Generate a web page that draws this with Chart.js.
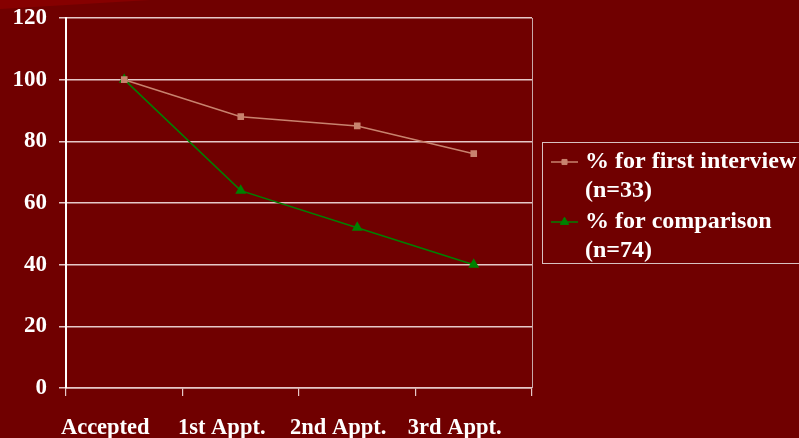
<!DOCTYPE html>
<html>
<head>
<meta charset="utf-8">
<style>
  html, body { margin: 0; padding: 0; background: #700000; }
  canvas { display: block; }
</style>
<script src="https://cdn.jsdelivr.net/npm/chart.js@4/dist/chart.umd.min.js"></script>
</head>
<body>
<canvas id="c" width="799" height="438"></canvas>
<script>
// Stages of the referral process
const categories = ['Accepted', '1st Appt.', '2nd Appt.', '3rd Appt.'];

// Percentage still attending at each stage
const firstInterview = [100, 88, 85, 76];
const comparison = [100, 64, 52, 40];

// Legend text, one entry per series (two lines each)
const legendLines = [
  ['% for first interview', '(n=33)'],
  ['% for comparison', '(n=74)']
];

// Value axis range
const yMin = 0;
const yMax = 120;
const yStep = 20;

const FONT = '"Liberation Serif", "Times New Roman", serif';
const BG = '#700000';
const GRID = '#e6c8c8';

// Slide background with the lighter swoosh at the top-left corner
const backdrop = {
  id: 'backdrop',
  beforeDraw(chart) {
    const ctx = chart.ctx;
    ctx.save();
    ctx.fillStyle = BG;
    ctx.fillRect(0, 0, chart.width, chart.height);
    ctx.fillStyle = '#860000';
    ctx.beginPath();
    ctx.moveTo(0, 0);
    ctx.lineTo(150, 0);
    ctx.lineTo(0, 9);
    ctx.closePath();
    ctx.fill();
    ctx.restore();
  }
};

// Right edge of the plot frame plus the boxed two-line legend
const frameAndLegend = {
  id: 'frameAndLegend',
  afterDraw(chart) {
    const ctx = chart.ctx;
    const area = chart.chartArea;
    ctx.save();
    ctx.strokeStyle = '#c8a8a8';
    ctx.lineWidth = 1;
    ctx.beginPath();
    ctx.moveTo(Math.round(area.right) + 0.5, area.top);
    ctx.lineTo(Math.round(area.right) + 0.5, area.bottom);
    ctx.stroke();

    // legend box
    const bx = 542, by = 142, bw = 262, bh = 121;
    ctx.strokeStyle = '#d8c0c0';
    ctx.strokeRect(bx + 0.5, by + 0.5, bw, bh);

    const rows = [162, 222];
    const lineGap = 29;
    chart.data.datasets.forEach((ds, i) => {
      const y = rows[i];
      ctx.strokeStyle = ds.borderColor;
      ctx.lineWidth = ds.borderWidth;
      ctx.beginPath();
      ctx.moveTo(551, y);
      ctx.lineTo(578, y);
      ctx.stroke();
      ctx.fillStyle = ds.pointBackgroundColor;
      ctx.strokeStyle = ds.pointBorderColor;
      ctx.lineWidth = 1;
      Chart.helpers.drawPoint(ctx, {
        pointStyle: ds.pointStyle,
        radius: ds.pointRadius,
        rotation: 0,
        borderWidth: 1
      }, 564.5, y);
      ctx.fillStyle = '#ffffff';
      ctx.font = 'bold 24px ' + FONT;
      ctx.textBaseline = 'middle';
      ctx.textAlign = 'left';
      legendLines[i].forEach((t, k) => ctx.fillText(t, 585, y + k * lineGap));
    });
    ctx.restore();
  }
};

new Chart(document.getElementById('c'), {
  type: 'line',
  data: {
    labels: categories,
    datasets: [
      {
        label: legendLines[0].join(' '),
        data: firstInterview,
        borderColor: '#c8826e',
        backgroundColor: '#c8826e',
        pointBackgroundColor: '#c8826e',
        pointBorderColor: '#c8826e',
        borderWidth: 1.5,
        pointStyle: 'rect',
        pointRadius: 3.6,
        tension: 0
      },
      {
        label: legendLines[1].join(' '),
        data: comparison,
        borderColor: '#008000',
        backgroundColor: '#008000',
        pointBackgroundColor: '#008000',
        pointBorderColor: '#008000',
        borderWidth: 1.5,
        pointStyle: 'triangle',
        pointRadius: 4.8,
        tension: 0
      }
    ]
  },
  options: {
    responsive: false,
    animation: false,
    devicePixelRatio: 1,
    layout: { padding: { top: 18, right: 267, left: 0, bottom: 0 } },
    plugins: {
      legend: { display: false },
      tooltip: { enabled: false }
    },
    scales: {
      x: {
        offset: true,
        grid: {
          offset: true,
          drawOnChartArea: false,
          drawTicks: true,
          tickLength: 8,
          color: GRID,
          lineWidth: 1.2
        },
        border: { display: true, color: GRID, width: 1.5 },
        ticks: {
          color: '#ffffff',
          font: { family: FONT, size: 22.5, weight: 'bold' },
          padding: 19,
          labelOffset: -19,
          maxRotation: 0,
          autoSkip: false
        },
        afterFit(scale) { scale.height = 50; }
      },
      y: {
        min: yMin,
        max: yMax,
        grid: {
          color: GRID,
          lineWidth: 1.5,
          drawTicks: true,
          tickLength: 7
        },
        border: { display: true, color: '#ffffff', width: 2 },
        ticks: {
          stepSize: yStep,
          color: '#ffffff',
          font: { family: FONT, size: 23, weight: 'bold' },
          padding: 12
        },
        afterFit(scale) {
          scale.width = 66;
          scale.paddingTop = 0;
          scale.paddingBottom = 0;
        }
      }
    }
  },
  plugins: [backdrop, frameAndLegend]
});
</script>
</body>
</html>
